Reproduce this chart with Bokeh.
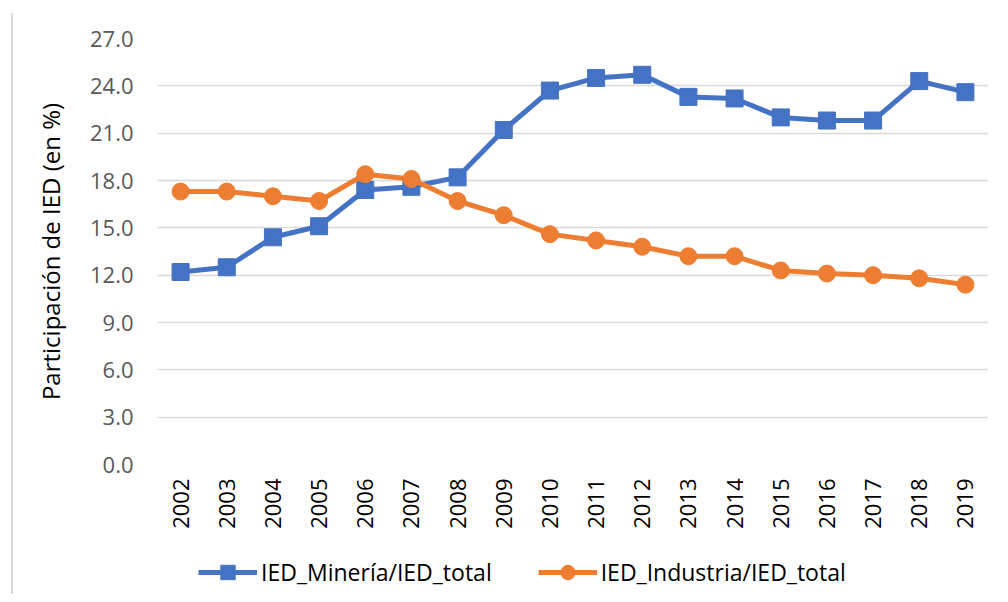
import math
from bokeh.plotting import figure
from bokeh.layouts import column
from bokeh.models import FixedTicker, NumeralTickFormatter, Legend, LegendItem
from bokeh.embed import file_html
from bokeh.resources import INLINE

years = [str(y) for y in range(2002, 2020)]
mineria = [12.2, 12.5, 14.4, 15.1, 17.4, 17.6, 18.2, 21.2, 23.7, 24.5, 24.7,
           23.3, 23.2, 22.0, 21.8, 21.8, 24.3, 23.6]
industria = [17.3, 17.3, 17.0, 16.7, 18.4, 18.1, 16.7, 15.8, 14.6, 14.2, 13.8,
             13.2, 13.2, 12.3, 12.1, 12.0, 11.8, 11.4]
y_ticks = [0, 3, 6, 9, 12, 15, 18, 21, 24, 27]
name_min = "IED_Minería/IED_total"
name_ind = "IED_Industria/IED_total"
y_title = "Participación de IED (en %)"

BLUE = "#4472C4"
ORANGE = "#ED7D31"
FONT = "Open Sans"

p = figure(x_range=years, y_range=(0, 27), width=987, height=521,
           output_backend="svg", toolbar_location=None,
           min_border_left=144, min_border_right=12, min_border_top=25,
           min_border_bottom=70)
p.outline_line_color = None
p.background_fill_color = "white"
p.border_fill_color = "white"

p.line(years, mineria, line_color=BLUE, line_width=5)
p.scatter(years, mineria, marker="square", size=17, fill_color=BLUE, line_color=BLUE)
p.line(years, industria, line_color=ORANGE, line_width=5)
p.scatter(years, industria, marker="circle", size=17, fill_color=ORANGE, line_color=ORANGE)

p.xgrid.grid_line_color = None
p.ygrid.grid_line_color = "#d9d9d9"
p.ygrid.grid_line_width = 1.5
p.yaxis.ticker = FixedTicker(ticks=y_ticks)
p.yaxis.formatter = NumeralTickFormatter(format="0.0")

for ax in (p.xaxis[0], p.yaxis[0]):
    ax.axis_line_color = None
    ax.major_tick_line_color = None
    ax.minor_tick_line_color = None
    ax.major_tick_out = 0
    ax.major_tick_in = 0
    ax.major_label_text_font = FONT
    ax.major_label_text_font_size = "22px"
    ax.major_label_text_color = "#595959"

p.yaxis.major_label_standoff = 24
p.yaxis.axis_label = y_title
p.yaxis.axis_label_text_font = FONT
p.yaxis.axis_label_text_font_size = "24px"
p.yaxis.axis_label_text_font_style = "normal"
p.yaxis.axis_label_text_color = "#000000"
p.yaxis.axis_label_standoff = 20

p.xaxis.major_label_orientation = math.pi / 2
p.xaxis.major_label_standoff = 14
p.xaxis.major_label_text_color = "#000000"

# legend strip below the chart (series drawn off-view, only legend glyphs show)
lg = figure(width=987, height=60, x_range=(0, 1), y_range=(-100, -99),
            output_backend="svg", toolbar_location=None,
            x_axis_type=None, y_axis_type=None, min_border=0)
lg.outline_line_color = None
lg.xgrid.grid_line_color = None
lg.ygrid.grid_line_color = None
idx = list(range(len(years)))
lg_lm = lg.line(idx, mineria, line_color=BLUE, line_width=5)
lg_sm = lg.scatter(idx, mineria, marker="square", size=15, fill_color=BLUE, line_color=BLUE)
lg_li = lg.line(idx, industria, line_color=ORANGE, line_width=5)
lg_si = lg.scatter(idx, industria, marker="circle", size=13, fill_color=ORANGE, line_color=ORANGE)

legend = Legend(items=[LegendItem(label=name_min, renderers=[lg_lm, lg_sm]),
                       LegendItem(label=name_ind, renderers=[lg_li, lg_si])],
                orientation="horizontal", location=(41, 4),
                glyph_width=59, glyph_height=36, label_standoff=4, spacing=46,
                padding=0, margin=0, border_line_color=None,
                background_fill_alpha=0,
                label_text_font=FONT, label_text_font_size="23px",
                label_text_color="#000000")
lg.add_layout(legend, "center")

layout = column(p, lg, spacing=0)
layout.styles = {"border-left": "2px solid #d9d9d9", "margin-left": "11px",
                 "margin-top": "13px"}

open("out.html", "w").write(file_html(layout, INLINE))
